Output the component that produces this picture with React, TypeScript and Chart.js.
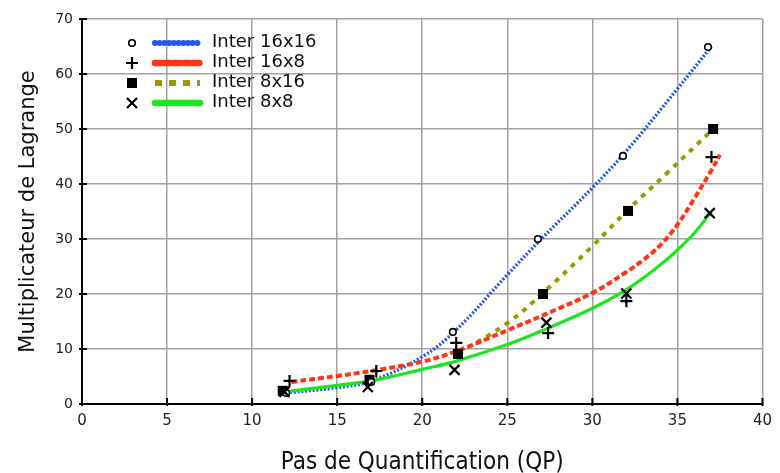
import { useEffect, useRef } from 'react';
import { Chart, registerables } from 'chart.js';

Chart.register(...registerables);

// ---------- data ----------
const seriesNames = ['Inter 16x16', 'Inter 16x8', 'Inter 8x16', 'Inter 8x8'];

// measured points (QP, lambda)
const qp16x16 = [12, 17, 21.8, 26.8, 31.8, 36.8];
const lambda16x16 = [2, 4, 13.1, 30, 45.1, 64.9];
const qp16x8 = [12.2, 17.3, 22, 27.4, 32, 37];
const lambda16x8 = [4.2, 6, 11.1, 12.9, 18.7, 44.9];
const qp8x16 = [11.8, 16.9, 22.1, 27.1, 32.1, 37.1];
const lambda8x16 = [2.4, 4.4, 9.1, 20, 35.1, 50];
const qp8x8 = [11.9, 16.8, 21.9, 27.3, 32, 36.9];
const lambda8x8 = [2.2, 3.1, 6.2, 14.8, 20.1, 34.7];

// fitted curves
const fit16x16X = [12, 15, 17, 20, 22, 25, 27, 30, 32, 35, 37];
const fit16x16Y = [2, 3, 4.2, 8.6, 13.5, 23.5, 30, 39.3, 46, 57.3, 65];
const fit16x8X = [12.3, 15, 17, 20, 22, 25, 27, 30, 32, 33, 34, 35, 36, 37, 37.5];
const fit16x8Y = [4, 5.1, 6, 7.7, 9.6, 13.4, 16, 20.2, 24, 26.2, 28.9, 32.6, 37.4, 42.5, 45.3];
const fit8x16X = [22.1, 25, 27.1, 30, 32, 34.4, 37.1];
const fit8x16Y = [9.2, 14.7, 20.2, 28.7, 35, 42, 50];
const fit8x8X = [11.9, 15, 17, 20, 22, 25, 27.4, 30, 32, 34, 35, 36, 36.9];
const fit8x8Y = [2.2, 3.4, 4.2, 6.3, 7.8, 10.8, 13.8, 17.4, 20.8, 25.3, 28, 31.1, 34.6];

const xMin = 0, xMax = 40, xStep = 5;
const yMin = 0, yMax = 70, yStep = 10;
const xTitle = 'Pas de Quantification (QP)';
const yTitle = 'Multiplicateur de Lagrange';

// ---------- styles ----------
const lineColors = ['#2358f0', '#ff3515', '#9c9a00', '#1ee61e'];
const lineWidths = [3.4, 4, 4, 3.2];
const lineDashes: number[][] = [[2, 1.8], [6, 3], [5, 6], []];
const markerStyles = ['circle', 'plus', 'square', 'x'];
const legendDashes: number[][] = [[0.1, 4.6], [6, 3.6], [7, 7], []];
const legendWidths = [6, 6.5, 6, 6.5];
const legendCaps: CanvasLineCap[] = ['round', 'round', 'butt', 'round'];

const zip = (xs: number[], ys: number[]) => xs.map((x, i) => ({ x, y: ys[i] }));

function drawMarker(ctx: CanvasRenderingContext2D, style: string, x: number, y: number) {
  ctx.save();
  ctx.strokeStyle = '#000';
  ctx.fillStyle = '#000';
  ctx.lineCap = 'butt';
  if (style === 'circle') {
    ctx.lineWidth = 1.6;
    ctx.beginPath();
    ctx.arc(x, y, 3.3, 0, Math.PI * 2);
    ctx.fillStyle = '#fff';
    ctx.fill();
    ctx.stroke();
  } else if (style === 'plus') {
    ctx.lineWidth = 2.2;
    ctx.beginPath();
    ctx.moveTo(x - 6, y);
    ctx.lineTo(x + 6, y);
    ctx.moveTo(x, y - 6);
    ctx.lineTo(x, y + 6);
    ctx.stroke();
  } else if (style === 'square') {
    ctx.fillRect(x - 5, y - 5, 10, 10);
  } else {
    ctx.lineWidth = 2.2;
    ctx.beginPath();
    ctx.moveTo(x - 5, y - 5);
    ctx.lineTo(x + 5, y + 5);
    ctx.moveTo(x + 5, y - 5);
    ctx.lineTo(x - 5, y + 5);
    ctx.stroke();
  }
  ctx.restore();
}

const markerPlugin = {
  id: 'markers',
  afterDatasetsDraw(chart: any) {
    const { ctx, scales } = chart;
    const sets = [
      [qp16x16, lambda16x16],
      [qp16x8, lambda16x8],
      [qp8x16, lambda8x16],
      [qp8x8, lambda8x8],
    ];
    ctx.save();
    [2, 0, 1, 3].forEach((si) => {
      const [xs, ys] = sets[si];
      xs.forEach((v, i) => {
        drawMarker(ctx, markerStyles[si], scales.x.getPixelForValue(v), scales.y.getPixelForValue(ys[i]));
      });
    });
    ctx.restore();
  },
};

const innerTicks = {
  id: 'innerTicks',
  afterDraw(chart: any) {
    const { ctx, chartArea, scales } = chart;
    ctx.save();
    ctx.strokeStyle = '#000';
    ctx.lineWidth = 2;
    ctx.beginPath();
    scales.x.ticks.forEach((t: any) => {
      const px = scales.x.getPixelForValue(t.value);
      ctx.moveTo(px, chartArea.bottom + 2);
      ctx.lineTo(px, chartArea.bottom - 6);
    });
    scales.y.ticks.forEach((t: any) => {
      const py = scales.y.getPixelForValue(t.value);
      ctx.moveTo(chartArea.left - 3, py);
      ctx.lineTo(chartArea.left + 5, py);
    });
    ctx.stroke();
    ctx.restore();
  },
};

const legendPlugin = {
  id: 'customLegend',
  afterDraw(chart: any) {
    const { ctx, chartArea } = chart;
    const markerX = chartArea.left + 50;
    const lineX0 = chartArea.left + 73;
    const lineX1 = chartArea.left + 118;
    const textX = chartArea.left + 130;
    const rowY0 = chartArea.top + 24;
    const rowGap = 20;
    ctx.save();
    seriesNames.forEach((name, i) => {
      const y = rowY0 + i * rowGap;
      drawMarker(ctx, markerStyles[i], markerX, y);
      ctx.beginPath();
      ctx.strokeStyle = lineColors[i];
      ctx.lineWidth = legendWidths[i];
      ctx.lineCap = legendCaps[i];
      ctx.setLineDash(legendDashes[i]);
      ctx.moveTo(lineX0, y);
      ctx.lineTo(lineX1, y);
      ctx.stroke();
      ctx.setLineDash([]);
      ctx.fillStyle = '#111';
      ctx.font = '18px "DejaVu Sans"';
      ctx.textBaseline = 'middle';
      ctx.textAlign = 'left';
      ctx.fillText(name, textX, y - 1);
    });
    ctx.restore();
  },
};

export default function App() {
  const canvasRef = useRef<HTMLCanvasElement | null>(null);

  useEffect(() => {
    document.body.style.margin = '0';
    if (!canvasRef.current) return;
    const fits = [
      zip(fit16x16X, fit16x16Y),
      zip(fit16x8X, fit16x8Y),
      zip(fit8x16X, fit8x16Y),
      zip(fit8x8X, fit8x8Y),
    ];
    const drawOrder = [4, 2, 3, 1];
    const chart = new Chart(canvasRef.current, {
      type: 'scatter',
      data: {
        datasets: fits.map((d, i) => ({
          label: seriesNames[i],
          data: d,
          showLine: true,
          borderColor: lineColors[i],
          backgroundColor: lineColors[i],
          borderWidth: lineWidths[i],
          borderDash: lineDashes[i],
          borderCapStyle: 'butt' as const,
          pointRadius: 0,
          pointHoverRadius: 0,
          tension: 0.4,
          order: drawOrder[i],
        })),
      },
      options: {
        animation: false,
        responsive: true,
        maintainAspectRatio: false,
        layout: { padding: { top: 19, right: 10, left: 0, bottom: 0 } },
        plugins: { legend: { display: false }, tooltip: { enabled: false } },
        scales: {
          x: {
            type: 'linear',
            min: xMin,
            max: xMax,
            ticks: {
              stepSize: xStep,
              padding: 8,
              color: '#222',
              font: { family: '"DejaVu Sans", sans-serif', size: 15 },
            },
            grid: { color: '#a2a2a2', lineWidth: 1.5, drawTicks: false },
            border: { display: true, color: '#000', width: 2 },
            title: {
              display: true,
              text: xTitle,
              color: '#111',
              font: { family: '"DejaVu Sans Condensed", "Liberation Sans Narrow", "DejaVu Sans", sans-serif', size: 24 },
              padding: { top: 0, bottom: -4 },
            },
            afterFit(scale: any) {
              scale.height = 69;
            },
          },
          y: {
            type: 'linear',
            min: yMin,
            max: yMax,
            ticks: {
              stepSize: yStep,
              padding: 9,
              color: '#222',
              font: { family: '"DejaVu Sans", sans-serif', size: 14 },
            },
            grid: { color: '#a2a2a2', lineWidth: 1.5, drawTicks: false },
            border: { display: true, color: '#000', width: 2 },
            title: {
              display: true,
              text: yTitle,
              color: '#111',
              font: { family: '"DejaVu Sans", sans-serif', size: 21 },
              padding: { top: 16, bottom: 0 },
            },
            afterFit(scale: any) {
              scale.width = 82;
            },
          },
        },
      },
      plugins: [markerPlugin, innerTicks, legendPlugin],
    });
    return () => chart.destroy();
  }, []);

  return (
    <div style={{ position: 'relative', width: '780px', height: '473px' }}>
      <canvas ref={canvasRef} />
    </div>
  );
}
